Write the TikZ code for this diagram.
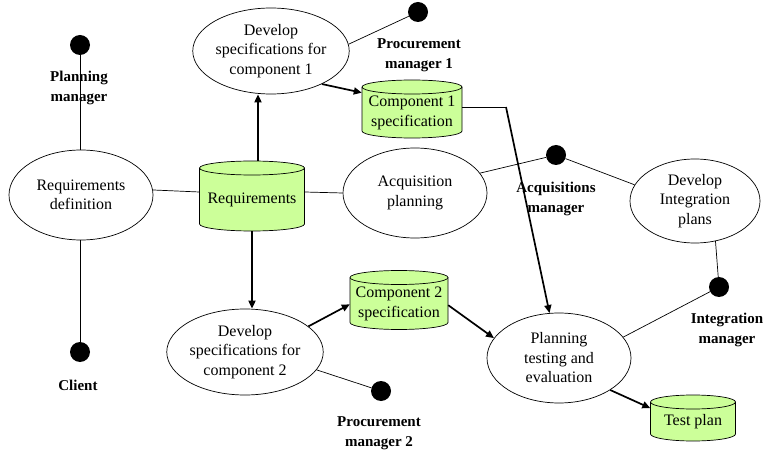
\documentclass[tikz,border=0pt]{standalone}
\usepackage{fontspec}
\setmainfont{Liberation Serif}
\usetikzlibrary{shapes.geometric,arrows.meta,calc}
\definecolor{cylgreen}{RGB}{204,255,153}
\newcommand\mycyl[6]{%
  \pgfmathsetmacro\cyL{#2-#4/2}\pgfmathsetmacro\cyR{#2+#4/2}%
  \pgfmathsetmacro\cyT{#3+#5/2-7}\pgfmathsetmacro\cyB{#3-#5/2+7}%
  \pgfmathsetmacro\cyX{#4/2}\pgfmathsetmacro\cyY{#3-4}%
  \draw[cylbody] (\cyL,\cyT) -- (\cyL,\cyB) arc[start angle=180,end angle=360,x radius=\cyX,y radius=7] -- (\cyR,\cyT) arc[start angle=0,end angle=180,x radius=\cyX,y radius=7] -- cycle;
  \draw[cylline] (\cyL,\cyT) arc[start angle=180,end angle=360,x radius=\cyX,y radius=7];
  \node[inner sep=0pt,minimum width=#4pt,minimum height=#5pt] (#1) at (#2,#3) {};
  \node[cyltext] (#1t) at (#2,\cyY) {#6};
}
\begin{document}
\begin{tikzpicture}[x=1pt,y=1pt,
  proc/.style={ellipse,draw,line width=0.7pt,inner sep=0pt,align=center,font=\fontsize{16}{19.5}\selectfont},
  cylbody/.style={draw,fill=cylgreen,line width=0.7pt},
  cylline/.style={line width=0.7pt},
  cyltext/.style={inner sep=0pt,align=center,font=\fontsize{16}{19.5}\selectfont},
  actor/.style={circle,fill=black,minimum size=20pt,inner sep=0pt},
  lbl/.style={align=center,font=\fontsize{15}{19.5}\selectfont\bfseries},
  thin/.style={line width=0.7pt},
  arr/.style={line width=1.7pt,-{Triangle[length=8pt,width=7pt]}}]
\useasboundingbox (0,0) rectangle (763,453);
% processes
\node[proc,minimum width=144pt,minimum height=90pt] (rd) at (81,258) {Requirements\\definition};
\node[proc,minimum width=144pt,minimum height=86pt] (dc1) at (271,402) {Develop\\specifications for\\component 1};
\node[proc,minimum width=144pt,minimum height=90pt] (acq) at (415,260) {Acquisition\\planning};
\node[proc,minimum width=130pt,minimum height=84pt] (dip) at (695,252) {Develop\\Integration\\plans};
\node[proc,minimum width=144pt,minimum height=86pt] (dc2) at (245,101) {Develop\\specifications for\\component 2};
\node[proc,minimum width=144pt,minimum height=90pt] (pte) at (559,95) {Planning\\testing and\\evaluation};
% stores
\mycyl{req}{252}{257}{105}{70}{Requirements}
\mycyl{c1}{412}{344}{100}{58}{Component 1\\specification}
\mycyl{c2}{399}{153}{98}{59}{Component 2\\specification}
\mycyl{tp}{693}{35}{85}{46}{Test plan}
% actors
\node[actor] (pm) at (80,408) {};
\node[lbl] (pml) at (79,365) {Planning\\manager};
\node[actor] (cl) at (80,101) {};
\node[lbl] (cll) at (78,68) {Client};
\node[actor] (pm1) at (418,441) {};
\node[lbl] (pm1l) at (419,398) {Procurement\\manager 1};
\node[actor] (am) at (556,298) {};
\node[lbl] (aml) at (556,254) {Acquisitions\\manager};
\node[actor] (im) at (719,166) {};
\node[lbl] (iml) at (727,123) {Integration\\manager};
\node[actor] (pm2) at (381,62) {};
\node[lbl] (pm2l) at (379,20) {Procurement\\manager 2};
\coordinate (k) at (506,346);
% thin connectors
\draw[thin] (pm) -- (pm |- rd.north);
\draw[thin] (cl) -- (cl |- rd.south);
\draw[thin] (rd.4) -- ([yshift=4pt]req.west);
\draw[thin] ([yshift=4pt]req.east) -- (acq.west);
\draw[thin] (dc1.5) -- (pm1);
\draw[thin] (acq.17) -- (am);
\draw[thin] (am) -- (dip.165);
\draw[thin] (dip.-63) -- (im);
\draw[thin] (im) -- (pte.18);
\draw[thin] (dc2.-14) -- (pm2);
\draw[thin] ([yshift=2pt]c1.east) -- (k);
% thick arrows
\draw[arr] ([xshift=6pt]req.north) -- ([xshift=6pt]req.north |- dc1.south);
\draw[arr] (dc1.-33) -- (c1.162);
\draw[arr] (req.south) -- (req.south |- dc2.north);
\draw[arr] (dc2.22) -- (c2.185);
\draw[arr] (c2.-6) -- (pte.163);
\draw[arr] (pte.-32) -- (tp.167);
\draw[arr] (k) -- (pte);
\end{tikzpicture}
\end{document}
